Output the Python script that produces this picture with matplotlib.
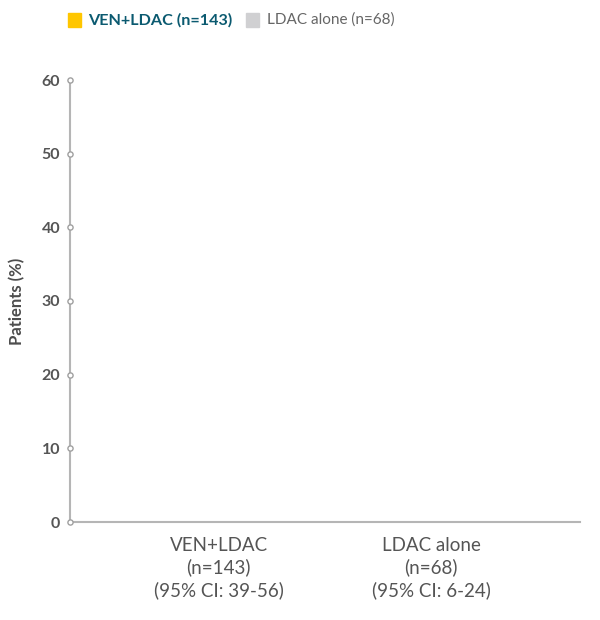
import matplotlib.pyplot as plt
from matplotlib.patches import Rectangle

# Data (bars are not rendered in the reference: values read as 0)
categories = ["VEN+LDAC\n(n=143)\n(95% CI: 39-56)", "LDAC alone\n(n=68)\n(95% CI: 6-24)"]
values = [0, 0]
bar_colors = ["#ffc600", "#d0d0d2"]
legend_labels = ["VEN+LDAC (n=143)", "LDAC alone (n=68)"]
yticks = [0, 10, 20, 30, 40, 50, 60]

plt.rcParams["font.family"] = ["Lato", "DejaVu Sans"]

fig = plt.figure(figsize=(6, 6.2), dpi=100)
ax = fig.add_axes([70 / 600, 98 / 620, 510 / 600, 442 / 620])

ax.bar(range(len(values)), values, width=0.5, color=bar_colors)

ax.set_xlim(-0.7, 1.7)
ax.set_ylim(0, 60)
ax.set_xticks(range(len(categories)))
ax.set_xticklabels(categories, fontsize=13.5, color="#555555", linespacing=1.3)
ax.set_yticks(yticks)
ax.set_yticklabels([str(t) for t in yticks], fontsize=11.5, color="#555555",
                   fontweight="bold")
ax.tick_params(axis="both", length=0)
ax.tick_params(axis="y", pad=7)
ax.tick_params(axis="x", pad=11)

for side in ["top", "right"]:
    ax.spines[side].set_visible(False)
for side in ["left", "bottom"]:
    ax.spines[side].set_color("#b5b5b5")
    ax.spines[side].set_linewidth(1.5)

# small hollow circle tick markers on the y axis
ax.scatter([-0.7] * len(yticks), yticks, s=14, facecolor="white",
           edgecolor="#a0a0a0", linewidth=1, zorder=5, clip_on=False)

ax.set_ylabel("Patients (%)", fontsize=12, fontweight="bold", color="#4d4d4d",
              labelpad=12)

# legend at top
fig.patches.append(Rectangle((68 / 600, 1 - 27 / 620), 13 / 600, 14 / 620,
                             transform=fig.transFigure, color=bar_colors[0]))
fig.text(88 / 600, 1 - 20 / 620, legend_labels[0], fontsize=11.6, fontweight="bold",
         color="#0b5a70", va="center")
fig.patches.append(Rectangle((246 / 600, 1 - 27 / 620), 13 / 600, 14 / 620,
                             transform=fig.transFigure, color=bar_colors[1]))
fig.text(267 / 600, 1 - 20 / 620, legend_labels[1], fontsize=11,
         color="#666666", va="center")

fig.savefig("out.png", dpi=100)
